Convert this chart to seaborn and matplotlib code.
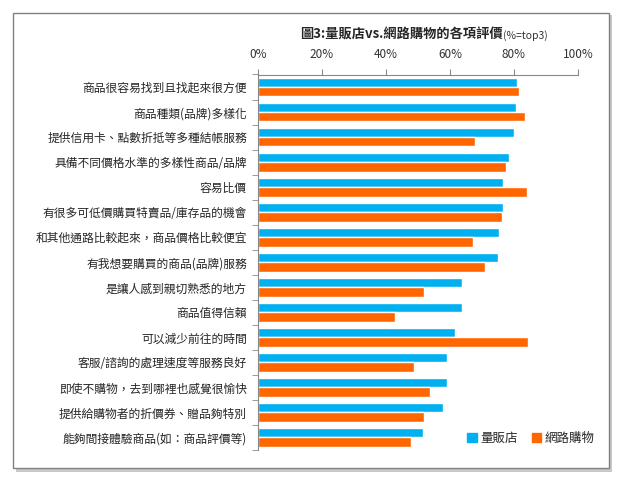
import matplotlib
matplotlib.use("Agg")
import matplotlib.pyplot as plt
import matplotlib.patches as mpatches
import seaborn as sns
import pandas as pd

categories = [
    "商品很容易找到且找起來很方便",
    "商品種類(品牌)多樣化",
    "提供信用卡、點數折抵等多種結帳服務",
    "具備不同價格水準的多樣性商品/品牌",
    "容易比價",
    "有很多可低價購買特賣品/庫存品的機會",
    "和其他通路比較起來，商品價格比較便宜",
    "有我想要購買的商品(品牌)服務",
    "是讓人感到親切熟悉的地方",
    "商品值得信賴",
    "可以減少前往的時間",
    "客服/諮詢的處理速度等服務良好",
    "即使不購物，去到哪裡也感覺很愉快",
    "提供給購物者的折價券、贈品夠特別",
    "能夠間接體驗商品(如：商品評價等)",
]
store = [81.0, 80.6, 80.0, 78.5, 76.7, 76.5, 75.2, 74.9, 63.6, 63.6, 61.5, 59.0, 59.0, 57.7, 51.5]
online = [81.6, 83.3, 67.8, 77.6, 84.0, 76.1, 67.2, 70.9, 52.0, 42.8, 84.3, 48.6, 53.8, 52.0, 47.7]
series_names = ["量販店", "網路購物"]
colors = ["#00B0F0", "#FF6600"]

df = pd.DataFrame({
    "item": categories * 2,
    "value": store + online,
    "series": [series_names[0]] * len(categories) + [series_names[1]] * len(categories),
})

sns.set_style("white")
plt.rcParams["font.family"] = ["Noto Sans CJK TC", "DejaVu Sans"]

fig = plt.figure(figsize=(6.21, 4.8), dpi=100)
ax = fig.add_axes([258 / 621, 1 - 450 / 480, 320 / 621, 375.5 / 480])

sns.barplot(data=df, x="value", y="item", hue="series", palette=colors,
            orient="h", width=0.75, ax=ax, legend=False, saturation=1)

ax.set_xlim(0, 100)
ax.set_ylim(len(categories) - 0.5, -0.5)
ax.xaxis.tick_top()
ax.set_xticks(range(0, 101, 20))
ax.set_xticklabels([f"{v}%" for v in range(0, 101, 20)], fontsize=8.5, color="#333333")
ax.set_yticks(range(len(categories)))
ax.set_yticklabels(categories, fontsize=8.5)
ax.set_xlabel("")
ax.set_ylabel("")

for s in ["right", "bottom"]:
    ax.spines[s].set_visible(False)
for s in ["top", "left"]:
    ax.spines[s].set_color("#888888")
    ax.spines[s].set_linewidth(0.8)

ax.tick_params(axis="x", length=4, color="#888888", pad=6, top=True, direction="out")
ax.tick_params(axis="y", length=0, pad=8)
# small boundary ticks between categories on the y axis
ax.set_yticks([i - 0.5 for i in range(len(categories) + 1)], minor=True)
ax.tick_params(axis="y", which="minor", length=4, color="#888888", left=True)

# title
fig.text(503 / 621, 1 - 35 / 480, "圖3:量販店vs.網路購物的各項評價", fontsize=9.5,
         fontweight="bold", ha="right", va="center")
fig.text(503 / 621, 1 - 36 / 480, "(%=top3)", fontsize=7.5, ha="left", va="center",
         color="#333333")

# legend
handles = [mpatches.Patch(color=c, label=n) for c, n in zip(colors, series_names)]
fig.legend(handles=handles, loc="center", bbox_to_anchor=(531 / 621, 1 - 438 / 480),
           ncol=2, frameon=False, fontsize=9, handlelength=0.75, handleheight=0.75,
           handletextpad=0.3, columnspacing=1.1)

# outer frame with a shadow
fig.patches.append(mpatches.Rectangle((16 / 621, 1 - 472 / 480), 596 / 621, 457 / 480,
                                      transform=fig.transFigure, facecolor="#c8c8c8",
                                      edgecolor="none", zorder=-2))
fig.patches.append(mpatches.Rectangle((13 / 621, 1 - 468 / 480), 596 / 621, 455 / 480,
                                      transform=fig.transFigure, facecolor="white",
                                      edgecolor="#808080", linewidth=1.0, zorder=-1))

fig.savefig("out.png", dpi=100)
